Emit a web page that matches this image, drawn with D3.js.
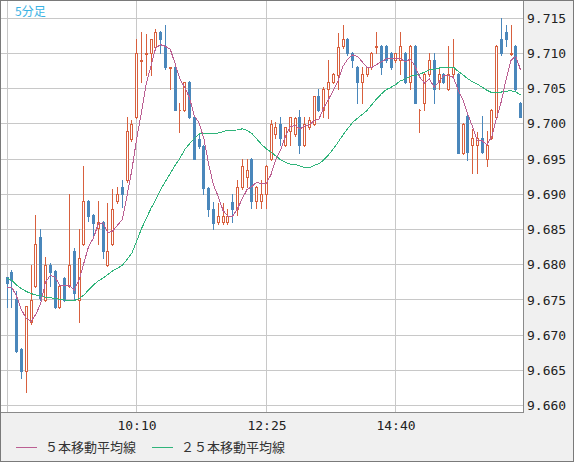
<!DOCTYPE html>
<html>
<head>
<meta charset="utf-8">
<script src="https://cdn.jsdelivr.net/npm/d3@7/dist/d3.min.js"></script>
<style>
body { margin: 0; background: #f0f0f0; }
svg { display: block; }
</style>
</head>
<body>
<div id="chart"></div>
<script>
// 5-minute candles, 07:55 .. 16:50 (one entry per bar)
var opens = [9.6782,9.6790,9.6752,9.6680,9.6649,9.6718,9.6770,9.6840,9.6750,9.6800,
  9.6791,9.6740,9.6781,9.6770,9.6820,9.6750,9.6830,9.6890,9.6870,9.6852,
  9.6860,9.6800,9.6830,9.6890,9.6910,9.6920,9.6979,9.7009,9.7089,9.7099,
  9.7100,9.7109,9.7130,9.7110,9.7079,9.7080,9.7019,9.7020,9.7060,9.7009,
  9.6979,9.6969,9.6909,9.6879,9.6860,9.6860,9.6860,9.6889,9.6879,9.6910,
  9.6925,9.6950,9.6890,9.6890,9.6900,9.6950,9.6985,9.7000,9.6970,9.6990,
  9.6985,9.7010,9.6970,9.6995,9.7000,9.7040,9.7020,9.7050,9.7060,9.7069,
  9.7110,9.7120,9.7100,9.7080,9.7060,9.7070,9.7080,9.7109,9.7110,9.7110,
  9.7100,9.7090,9.7090,9.7100,9.7060,9.7110,9.7020,9.7030,9.7070,9.7090,
  9.7060,9.7070,9.7050,9.7070,9.7070,9.6959,9.7011,9.6970,9.6970,9.6980,
  9.6950,9.6980,9.7010,9.7120,9.7130,9.7099,9.7110,9.7030];
var highs = [9.6783,9.6792,9.6762,9.6682,9.6742,9.6800,9.6870,9.6850,9.6811,9.6802,
  9.6793,9.6772,9.6783,9.6900,9.6824,9.6850,9.6940,9.6892,9.6872,9.6890,
  9.6862,9.6888,9.6908,9.6910,9.6920,9.7010,9.7005,9.7120,9.7130,9.7128,
  9.7120,9.7135,9.7132,9.7140,9.7080,9.7082,9.7029,9.7060,9.7061,9.7012,
  9.6985,9.6970,9.6910,9.6889,9.6888,9.6888,9.6879,9.6900,9.6920,9.6950,
  9.6950,9.6952,9.6912,9.6920,9.6942,9.7005,9.7002,9.7010,9.6995,9.7010,
  9.7010,9.7020,9.7010,9.7010,9.7040,9.7050,9.7052,9.7090,9.7072,9.7129,
  9.7140,9.7122,9.7102,9.7082,9.7080,9.7081,9.7102,9.7130,9.7112,9.7112,
  9.7102,9.7101,9.7130,9.7102,9.7112,9.7112,9.7021,9.7072,9.7100,9.7100,
  9.7080,9.7072,9.7110,9.7120,9.7072,9.7001,9.7013,9.6992,9.6988,9.7011,
  9.6990,9.7021,9.7112,9.7150,9.7140,9.7140,9.7112,9.7031];
var lows = [9.6740,9.6740,9.6676,9.6639,9.6619,9.6716,9.6768,9.6750,9.6748,9.6770,
  9.6738,9.6738,9.6748,9.6768,9.6750,9.6718,9.6828,9.6862,9.6841,9.6830,
  9.6810,9.6798,9.6828,9.6888,9.6882,9.6918,9.6975,9.7008,9.7060,9.7069,
  9.7069,9.7108,9.7100,9.7078,9.7050,9.7019,9.6989,9.7018,9.7008,9.6950,
  9.6965,9.6900,9.6869,9.6850,9.6858,9.6858,9.6858,9.6860,9.6870,9.6908,
  9.6910,9.6880,9.6880,9.6880,9.6880,9.6948,9.6980,9.6970,9.6968,9.6970,
  9.6983,9.6959,9.6968,9.6993,9.6998,9.7018,9.7010,9.7008,9.7058,9.7050,
  9.7108,9.7098,9.7080,9.7030,9.7030,9.7068,9.7078,9.7100,9.7070,9.7088,
  9.7078,9.7088,9.7070,9.7058,9.7050,9.7029,9.6989,9.7020,9.7068,9.7030,
  9.7050,9.7058,9.7048,9.7068,9.6959,9.6957,9.6949,9.6930,9.6930,9.6958,
  9.6940,9.6978,9.7008,9.7098,9.7110,9.7098,9.7048,9.7009];
var closes = [9.6774,9.6778,9.6678,9.6649,9.6741,9.6750,9.6830,9.6753,9.6800,9.6790,
  9.6740,9.6770,9.6750,9.6800,9.6760,9.6810,9.6890,9.6869,9.6859,9.6860,
  9.6820,9.6820,9.6879,9.6900,9.6900,9.6990,9.7000,9.7100,9.7091,9.7100,
  9.7120,9.7130,9.7120,9.7080,9.7080,9.7019,9.7020,9.7060,9.7009,9.6950,
  9.6969,9.6909,9.6879,9.6859,9.6869,9.6869,9.6869,9.6879,9.6910,9.6940,
  9.6935,9.6890,9.6910,9.6900,9.6940,9.7000,9.6995,9.6980,9.6995,9.7010,
  9.7008,9.6970,9.7000,9.7005,9.7039,9.7020,9.7050,9.7060,9.7070,9.7109,
  9.7120,9.7100,9.7090,9.7060,9.7070,9.7080,9.7100,9.7110,9.7080,9.7090,
  9.7080,9.7100,9.7110,9.7060,9.7110,9.7029,9.7020,9.7070,9.7090,9.7050,
  9.7070,9.7060,9.7070,9.7080,9.6959,9.6999,9.6960,9.6980,9.6980,9.6960,
  9.6970,9.7020,9.7110,9.7100,9.7120,9.7100,9.7050,9.7010];

// moving average values before enough bars are on screen
var ma5Lead = [9.6768, 9.6768, 9.6755, 9.6736];
var ma25Lead = [9.6781,9.6778,9.6771,9.6766,9.6762,9.6759,9.6757,9.6756,9.6754,9.6753,
  9.6752,9.6751,9.6750,9.6749,9.6749,9.6752,9.6757,9.6764,9.6771,9.6777,
  9.6781,9.6786,9.6791,9.6795];

var priceTicks = [9.660,9.665,9.670,9.675,9.680,9.685,9.690,9.695,9.700,9.705,9.710,9.715];
var timeTickBars = [27, 54, 81];
var timeTickLabels = ["10:10", "12:25", "14:40"];

var width = 574, height = 462;
var plotRight = 523, plotBottom = 412;

var upColor = "#d8603e";
var downColor = "#4a87bb";
var ma5Color = "#bb5f92";
var ma25Color = "#2fb47a";
var gridColor = "#c8c8c8";

// compute a simple moving average of the closes
function movingAverage(n, lead) {
    return closes.map(function(c, i) {
        if (i < n - 1) return lead[i];
        return d3.mean(closes.slice(i - n + 1, i + 1));
    });
}
var ma5 = movingAverage(5, ma5Lead);
var ma25 = movingAverage(25, ma25Lead);

var x = d3.scaleLinear().domain([0, closes.length - 1]).range([7, 7 + 4.8 * (closes.length - 1)]);
var y = d3.scaleLinear().domain([9.660, 9.715]).range([405.6, 18.1]);

var svg = d3.select("#chart").append("svg")
    .attr("width", width)
    .attr("height", height);

svg.append("rect")
    .attr("x", 0).attr("y", 0)
    .attr("width", width).attr("height", height)
    .attr("fill", "#f0f0f0");

svg.append("rect")
    .attr("x", 1).attr("y", 1)
    .attr("width", plotRight - 1).attr("height", plotBottom - 1)
    .attr("fill", "#ffffff");

svg.append("clipPath").attr("id", "plotClip")
    .append("rect")
    .attr("x", 1).attr("y", 1)
    .attr("width", plotRight - 1).attr("height", plotBottom - 1);

var plot = svg.append("g").attr("clip-path", "url(#plotClip)");

// grid
plot.selectAll("line.hgrid")
    .data(priceTicks)
    .enter().append("line")
    .attr("class", "hgrid")
    .attr("x1", 1).attr("x2", plotRight)
    .attr("y1", function(d) { return Math.floor(y(d)) + 0.5; })
    .attr("y2", function(d) { return Math.floor(y(d)) + 0.5; })
    .attr("stroke", gridColor)
    .attr("shape-rendering", "crispEdges");

plot.selectAll("line.vgrid")
    .data([0].concat(timeTickBars))
    .enter().append("line")
    .attr("class", "vgrid")
    .attr("y1", 1).attr("y2", plotBottom)
    .attr("x1", function(d) { return Math.floor(x(d)) + 0.5; })
    .attr("x2", function(d) { return Math.floor(x(d)) + 0.5; })
    .attr("stroke", gridColor)
    .attr("shape-rendering", "crispEdges");

// candles
var bars = d3.range(closes.length);

var candle = plot.selectAll("g.candle")
    .data(bars)
    .enter().append("g")
    .attr("class", "candle")
    .attr("shape-rendering", "crispEdges");

candle.append("line")
    .attr("x1", function(i) { return Math.floor(x(i)) + 0.5; })
    .attr("x2", function(i) { return Math.floor(x(i)) + 0.5; })
    .attr("y1", function(i) { return Math.round(y(highs[i])); })
    .attr("y2", function(i) { return Math.round(y(lows[i])) + 1; })
    .attr("stroke", function(i) { return closes[i] >= opens[i] ? upColor : downColor; })
    .attr("stroke-width", 1);

candle.filter(function(i) { return closes[i] >= opens[i]; })
    .append("path")
    .attr("d", function(i) {
        var c = Math.floor(x(i));
        var top = Math.round(y(closes[i])) + 0.5;
        var bot = Math.round(y(opens[i])) + 0.5;
        return "M" + (c - 0.5) + "," + top + "H" + (c + 1.5) + "V" + bot + "H" + (c - 0.5) + "Z";
    })
    .attr("fill", "#ffffff")
    .attr("stroke", upColor)
    .attr("stroke-width", 1);

candle.filter(function(i) { return closes[i] < opens[i]; })
    .append("rect")
    .attr("x", function(i) { return Math.floor(x(i)) - 1; })
    .attr("y", function(i) { return Math.round(y(opens[i])); })
    .attr("width", 3)
    .attr("height", function(i) {
        return Math.max(1, Math.round(y(closes[i])) - Math.round(y(opens[i])) + 1);
    })
    .attr("fill", downColor);

// moving averages
var maLine = function(values) {
    return d3.line()
        .x(function(d, i) { return x(i); })
        .y(function(d) { return y(d); })(values);
};

plot.append("path")
    .attr("d", maLine(ma25))
    .attr("fill", "none")
    .attr("stroke", ma25Color)
    .attr("stroke-width", 1)
    .attr("shape-rendering", "crispEdges");

plot.append("path")
    .attr("d", maLine(ma5))
    .attr("fill", "none")
    .attr("stroke", ma5Color)
    .attr("stroke-width", 1)
    .attr("shape-rendering", "crispEdges");

plot.append("text")
    .attr("x", 15).attr("y", 16)
    .attr("font-family", "'Noto Sans CJK JP', sans-serif")
    .attr("font-size", 12)
    .attr("fill", "#39b2e4")
    .text("5分足");

// plot border
svg.append("path")
    .attr("d", "M" + (plotRight + 0.5) + ",0V" + (plotBottom + 0.5) + "H0")
    .attr("fill", "none")
    .attr("stroke", "#8a8a8a")
    .attr("shape-rendering", "crispEdges");

// price axis on the right
var yAxis = d3.axisRight(y)
    .tickValues(priceTicks)
    .tickFormat(d3.format(".3f"))
    .tickSize(0)
    .tickPadding(3);

var yAxisG = svg.append("g")
    .attr("transform", "translate(" + (plotRight + 1) + ",0)")
    .call(yAxis);
yAxisG.select(".domain").remove();
yAxisG.selectAll("text")
    .attr("font-family", "'DejaVu Sans Mono', monospace")
    .attr("font-size", 13)
    .attr("fill", "#222");

// time labels
svg.selectAll("text.time")
    .data(timeTickBars)
    .enter().append("text")
    .attr("class", "time")
    .attr("x", function(d) { return Math.floor(x(d)) + 1; })
    .attr("y", 430)
    .attr("text-anchor", "middle")
    .attr("font-family", "'DejaVu Sans Mono', monospace")
    .attr("font-size", 13)
    .attr("fill", "#222")
    .text(function(d, i) { return timeTickLabels[i]; });

// legend
var legendItems = [
    { label: "５本移動平均線", color: ma5Color, x: 16 },
    { label: "２５本移動平均線", color: ma25Color, x: 152 }
];
var legend = svg.selectAll("g.legend")
    .data(legendItems)
    .enter().append("g")
    .attr("class", "legend");
legend.append("line")
    .attr("x1", function(d) { return d.x; })
    .attr("x2", function(d) { return d.x + 21; })
    .attr("y1", 447.5).attr("y2", 447.5)
    .attr("stroke", function(d) { return d.color; })
    .attr("shape-rendering", "crispEdges");
legend.append("text")
    .attr("x", function(d) { return d.x + 29; })
    .attr("y", 452)
    .attr("font-family", "'Noto Sans CJK JP', sans-serif")
    .attr("font-size", 13)
    .attr("fill", "#333")
    .text(function(d) { return d.label; });

// outer frame
svg.append("rect")
    .attr("x", 0.5).attr("y", 0.5)
    .attr("width", width - 1).attr("height", height - 1)
    .attr("fill", "none")
    .attr("stroke", "#7a7a7a")
    .attr("shape-rendering", "crispEdges");
</script>
</body>
</html>
